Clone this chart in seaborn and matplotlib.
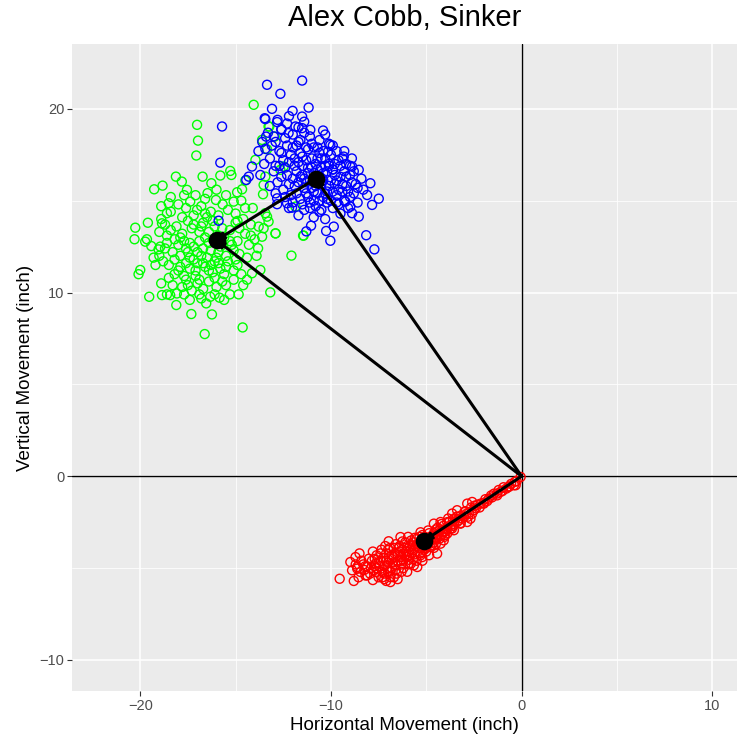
import matplotlib
matplotlib.use("Agg")
import matplotlib.pyplot as plt
import seaborn as sns
import pandas as pd

# ---------------- data ----------------
green_x = [-20.26, -20.3, -19.65, -19.74, -19.42, -19.04, -18.95, -20.0, -20.09, -19.53, -19.27, -18.83,
           -18.13, -17.82, -17.55, -16.73, -16.27, -16.47, -15.8, -15.28, -15.22, -14.92, -14.66, -16.03,
           -15.68, -15.1, -17.32, -16.24, -16.62, -14.63, -18.11, -18.86, -18.43, -18.08, -16.8, -16.33,
           -16.54, -15.84, -14.84, -13.18, -13.7, -14.14, -13.82, -13.61, -13.53, -13.27, -13.44, -14.05,
           -17.02, -16.97, -17.06, -13.27, -13.61, -12.07, -12.9, -13.96, -13.35, -11.46,
           -18.6, -18.3, -18.1, -17.9, -17.7, -17.5, -17.4, -17.2, -17.1, -16.9, -16.8, -16.6, -16.5, -16.4,
           -16.2, -16.1, -15.9, -15.7, -15.6, -15.4, -15.2, -15.0, -14.8, -14.7, -14.5, -18.8, -18.5, -18.2,
           -17.8, -17.6, -17.3, -17.0, -16.7, -16.4, -16.0, -15.5, -15.1, -14.9, -18.9, -18.4, -18.0, -17.6,
           -17.2, -16.8, -16.3, -15.9, -15.4, -15.0, -14.6, -14.2, -14.3, -14.0, -18.7, -18.4, -18.0, -17.8,
           -17.5, -17.3, -17.0, -16.9, -16.6, -16.5, -16.3, -16.1, -15.8, -15.7, -15.5, -15.3, -15.1, -14.9,
           -17.9, -17.6, -17.1, -16.7, -16.2, -15.9, -16.0, -17.4, -16.8, -16.4, -18.2, -17.7, -15.6, -14.8,
           -14.4, -18.9, -19.2, -19.0, -18.6, -17.4, -15.3, -14.4, -13.9, -14.1, -14.7, -16.0, -17.1, -18.4,
           -18.9, -19.6, -19.3, -17.7, -13.23, -12.95, -13.44, -13.53, -12.48, -12.65, -11.86, -11.43,
           -12.91, -13.35, -13.79, -14.49, -13.56, -18.86, -18.51, -18.6, -17.38, -17.02,
           -18.5, -18.2, -18.0, -17.8, -17.6, -17.4, -17.2, -17.0, -16.9, -16.7, -16.6, -16.4, -16.2, -16.1,
           -15.9, -15.7, -15.5, -15.3, -15.1, -14.9, -18.7, -19.0, -18.3, -17.5, -16.9, -16.1, -15.6, -14.6,
           -14.2, -14.5, -15.5, -16.6, -17.7, -18.6, -17.2, -16.3, -15.8, -15.0, -17.9, -16.7]
green_y = [13.53, 12.9, 12.9, 12.77, 12.53, 12.35, 12.5, 11.23, 11.0, 9.77, 15.62, 15.82,
           16.31, 16.04, 15.59, 16.31, 15.95, 15.41, 16.37, 16.62, 16.4, 15.46, 15.62, 15.04,
           14.8, 14.95, 8.83, 8.81, 7.74, 8.1, 9.32, 9.86, 9.86, 9.95, 9.68, 9.77,
           9.41, 9.72, 9.9, 10.01, 11.23, 11.05, 12.41, 13.04, 13.5, 13.86, 14.32, 20.22,
           19.13, 18.27, 17.46, 19.04, 18.31, 12.01, 13.22, 17.22, 17.8, 13.1,
           13.1, 12.2, 13.6, 11.4, 12.8, 13.9, 11.9, 12.5, 10.9, 13.3, 12.0, 11.4, 14.1, 12.7,
           11.1, 13.6, 12.2, 10.6, 13.0, 11.7, 12.6, 13.8, 12.1, 11.0, 13.2, 11.7, 10.8, 11.0,
           10.3, 10.7, 10.1, 10.5, 10.2, 10.6, 10.3, 10.4, 11.2, 11.5, 14.0, 14.4, 14.8, 14.6,
           14.2, 14.7, 14.4, 14.2, 14.5, 14.3, 14.0, 13.7, 12.6, 12.9, 12.4, 13.4, 12.6, 13.2,
           12.2, 13.5, 11.6, 12.8, 13.0, 11.9, 12.3, 11.7, 11.3, 12.7, 12.0, 13.4, 12.3, 12.8,
           12.0, 11.6, 11.2, 11.6, 12.9, 13.1, 11.9, 12.7, 13.6, 13.3, 11.8, 10.9, 11.0, 13.5,
           11.9, 10.5, 11.5, 13.3, 9.9, 9.6, 9.9, 10.7, 12.0, 14.6, 15.0, 15.6, 15.3, 15.2,
           14.7, 13.8, 11.9, 9.9, 19.04, 18.49, 16.31, 15.86, 16.86, 16.68, 14.68, 13.1,
           13.22, 14.13, 13.59, 16.1, 15.35, 13.77, 14.86, 14.32, 14.95, 14.5,
           11.5, 12.9, 11.2, 14.1, 12.4, 11.3, 13.7, 12.2, 10.7, 12.4, 14.3, 11.2, 13.9, 10.8,
           11.6, 13.5, 11.4, 12.8, 10.7, 13.9, 13.7, 12.0, 10.4, 10.4, 9.9, 9.9, 9.6, 10.4,
           13.1, 14.6, 15.3, 15.1, 15.3, 12.7, 11.8, 11.5, 12.5, 11.8, 13.0, 13.8]

blue_x = [-13.35, -11.51, -12.65, -13.09, -12.01, -11.17, -11.51, -15.71, -15.8, -15.89, -10.41, -8.54,
          -7.93, -7.49, -8.15, -7.72, -10.03, -10.25, -9.85, -11.04, -11.29, -13.47, -13.4, -13.44,
          -14.14, -14.31, -14.44, -12.82, -12.3, -12.04, -12.82, -13.44, -12.82, -11.86, -11.51, -11.08,
          -12.6, -12.22, -8.1, -7.84, -8.54, -8.89, -9.24, -8.98, -9.33, -8.89, -10.03, -10.15,
          -12.9, -12.6, -12.4, -12.2, -12.0, -11.8, -11.7, -11.5, -11.3, -11.2, -11.0, -10.9, -10.7, -10.6,
          -10.4, -10.3, -10.1, -10.0, -9.8, -9.7, -9.5, -9.4, -9.2, -9.1, -8.9, -13.2, -13.0, -12.8, -12.7,
          -12.5, -12.3, -12.1, -11.9, -11.6, -11.4, -11.1, -10.8, -10.5, -10.2, -9.9, -9.6, -9.3, -12.6,
          -12.3, -12.0, -11.7, -11.4, -11.9, -11.6, -11.2, -10.9, -10.8, -10.6, -10.5, -10.2, -10.0, -9.8,
          -9.6, -9.3, -9.0, -8.8, -8.7, -11.5, -11.3, -11.0, -10.7, -10.4, -10.3, -10.9, -11.1, -10.6,
          -9.9, -9.5, -9.4, -9.7, -10.1, -10.6, -11.1, -12.5, -12.9, -13.2, -13.5, -13.7, -13.3, -13.8,
          -12.2, -11.7, -11.4, -10.9, -10.3, -9.5, -8.6, -8.4, -8.3, -12.0, -11.8, -11.3, -10.7, -10.2,
          -9.8, -9.2, -10.4, -11.6, -12.2, -10.0, -9.0, -11.2, -10.5, -9.9, -10.8, -11.5, -10.1,
          -11.9, -11.7, -11.4, -11.2, -11.0, -10.9, -10.7, -10.5, -10.3, -10.1, -9.9, -9.7, -9.6, -9.4,
          -9.2, -9.0, -8.9, -11.8, -12.1, -12.4, -12.6, -12.9, -13.1, -12.7, -12.3, -11.6, -11.3, -11.0,
          -10.8, -10.4, -10.2, -10.6, -11.1, -11.5, -9.7, -9.1, -8.8, -8.6, -9.3, -9.9, -10.3, -11.4,
          -12.2, -12.8, -13.0, -13.6, -12.4, -12.0, -10.5, -11.7]
blue_y = [21.31, 21.54, 20.82, 20.0, 19.89, 20.07, 19.58, 19.04, 17.07, 13.91, 18.82, 16.68,
          15.95, 15.11, 13.12, 12.35, 12.82, 13.35, 13.59, 13.64, 13.33, 19.49, 18.49, 17.82,
          16.86, 16.31, 16.13, 15.13, 14.86, 14.62, 14.81, 19.44, 19.28, 19.04, 18.95, 18.86,
          18.86, 18.68, 15.31, 14.77, 14.13, 14.32, 14.95, 14.68, 17.4, 16.86, 18.04, 17.67,
          18.2, 17.6, 18.4, 17.1, 17.9, 16.6, 18.2, 17.4, 16.0, 17.8, 16.8, 15.5, 17.3, 16.3,
          15.2, 16.9, 15.8, 17.5, 16.4, 15.3, 16.9, 15.9, 16.3, 15.5, 16.0, 17.3, 16.6, 16.0, 16.9,
          15.6, 16.4, 15.3, 15.8, 15.1, 15.7, 14.9, 14.7, 14.5, 14.9, 14.6, 14.8, 15.0, 18.9,
          19.2, 18.6, 19.0, 18.7, 17.3, 16.3, 16.5, 17.9, 16.1, 17.6, 15.9, 16.6, 16.1, 17.0,
          15.6, 16.6, 16.9, 15.4, 15.9, 16.9, 17.2, 15.7, 15.4, 16.5, 17.3, 16.5, 16.1, 15.0,
          15.5, 16.3, 17.3, 17.7, 18.1, 18.3, 18.5, 17.2, 15.4, 15.8, 17.0, 16.4, 18.7, 17.7,
          14.6, 14.2, 14.5, 14.1, 14.0, 14.3, 14.9, 16.2, 15.6, 16.2, 15.4, 15.4, 16.7, 15.5,
          15.9, 15.8, 17.7, 17.6, 15.9, 15.0, 15.2, 16.8, 16.2, 16.7, 15.8, 16.4, 16.9,
          16.9, 16.0, 16.2, 15.2, 17.3, 15.0, 17.9, 16.8, 15.4, 17.0, 16.7, 16.1, 17.2, 15.5,
          17.0, 16.4, 17.3, 18.0, 17.5, 16.8, 16.3, 16.9, 18.0, 17.7, 18.0, 18.3, 17.9, 18.1,
          17.0, 16.1, 15.1, 14.4, 14.6, 14.8, 14.9, 14.6, 16.6, 15.7, 17.7, 18.0, 18.6, 19.3,
          19.6, 19.4, 18.5, 18.2, 15.2, 14.9, 17.3, 17.1]

red_x = [-0.05, -0.26, -0.4, -0.55, -0.8, -0.95, -1.1, -1.28, -1.45, -1.55, -1.72, -1.9, -2.0, -2.15,
         -2.3, -2.4, -2.5, -2.65, -2.77, -2.9, -2.95, -3.1, -3.2, -3.38, -3.4, -3.55, -3.6, -3.73, -3.8,
         -3.9, -4.0, -4.08, -4.1, -4.2, -4.25, -4.3, -4.43, -4.45, -4.5, -4.6, -4.7, -4.8, -4.85, -4.95,
         -5.0, -5.1, -5.21, -5.25, -5.3, -5.4, -5.47, -5.5, -5.6, -5.65, -5.7, -5.8, -5.9, -5.95, -6.0,
         -6.1, -6.2, -6.25, -6.35, -6.4, -6.5, -6.55, -6.6, -6.7, -6.8, -6.88, -6.88, -6.9, -6.97, -7.0,
         -7.1, -7.2, -7.31, -7.35, -7.4, -7.5, -7.6, -7.66, -7.75, -7.8, -7.9, -8.01, -8.1, -8.19, -8.3,
         -8.45, -8.5, -8.62, -8.62, -8.71, -8.8, -8.98, -8.89, -9.54,
         -3.0, -3.3, -3.5, -3.7, -3.95, -4.15, -4.35, -4.55, -4.75, -4.9, -5.05, -5.15, -5.35, -5.45,
         -5.55, -5.75, -5.85, -6.05, -6.15, -6.3, -6.45, -6.65, -6.75, -6.95, -7.05, -7.25, -7.45, -7.15,
         -6.3, -5.95, -6.6, -7.7, -7.2, -7.0, -6.5, -4.6, -4.4, -4.2, -3.85, -5.2, -4.9, -3.65, -4.05,
         -4.7, -5.6, -2.2, -2.6, -1.8, -1.2, -0.65, -1.98, -1.28, -0.67, -0.31, -2.68, -2.85, -3.2, -3.55,
         -3.9, -3.64, -3.38, -2.85, -2.59, -4.6, -4.25, -5.3, -5.9, -6.2, -5.0, -4.5, -6.8, -7.6, -8.2,
         -3.6, -3.9, -4.1, -4.3, -4.5, -4.65, -4.8, -5.0, -5.1, -5.3, -5.35, -5.5, -5.65, -5.7, -5.8,
         -5.9, -6.0, -6.1, -6.2, -6.35, -6.4, -6.5, -6.6, -6.7, -6.8, -6.9, -7.0, -7.1, -7.2, -7.3,
         -7.4, -7.5, -7.6, -7.7, -7.85, -7.95, -8.1, -8.25, -8.4, -8.55, -6.3, -6.7, -7.1, -5.5, -5.8,
         -4.6, -4.0, -3.2, -3.5, -2.8, -3.0, -2.45, -1.6, -1.0, -0.35, -4.85, -5.2, -6.0, -7.8, -8.7]
red_y = [-0.04, -0.27, -0.49, -0.42, -0.67, -0.6, -0.85, -0.94, -0.95, -1.15, -1.22, -1.25, -1.45, -1.49,
         -1.55, -1.75, -1.85, -1.7, -2.0, -2.05, -1.9, -2.3, -2.15, -2.49, -2.2, -2.6, -2.35, -2.85, -2.5,
         -2.75, -3.0, -3.49, -2.7, -3.2, -3.67, -2.9, -4.21, -3.4, -3.05, -3.6, -3.25, -3.85, -3.1, -3.5,
         -4.1, -3.3, -4.4, -3.7, -3.05, -3.9, -4.94, -3.4, -4.25, -4.85, -3.6, -4.0, -4.55, -3.3, -3.8,
         -4.3, -5.0, -3.55, -3.31, -4.1, -4.6, -5.3, -3.7, -4.4, -5.0, -5.49, -5.76, -3.9, -3.54, -4.7,
         -4.2, -5.3, -5.21, -4.0, -4.6, -5.5, -4.3, -4.76, -5.12, -4.1, -5.0, -4.49, -5.4, -5.4, -4.8,
         -5.21, -4.2, -5.03, -4.94, -4.4, -5.7, -4.67, -5.12, -5.58,
         -2.2, -2.4, -2.45, -2.65, -2.9, -3.05, -3.15, -3.35, -3.5, -3.7, -3.8, -3.6, -3.55, -4.1,
         -3.8, -4.2, -3.8, -4.1, -3.9, -4.4, -3.9, -4.2, -4.7, -4.4, -5.0, -4.45, -4.9, -3.8,
         -4.8, -4.8, -5.1, -4.5, -5.6, -5.2, -5.6, -3.1, -2.8, -2.6, -2.3, -3.2, -2.95, -2.85, -3.3,
         -3.75, -3.35, -1.7, -2.05, -1.35, -0.75, -0.55, -1.49, -1.04, -0.58, -0.49, -2.31, -2.49, -2.58, -2.94,
         -3.12, -2.03, -1.85, -1.49, -1.4, -2.58, -2.49, -4.3, -4.3, -4.6, -3.9, -3.7, -4.5, -5.0, -4.9,
         -2.7, -2.5, -3.0, -3.4, -2.9, -3.45, -3.3, -3.6, -4.0, -4.2, -3.3, -3.7, -4.0, -4.5, -3.5,
         -4.1, -4.4, -3.6, -4.2, -4.6, -3.8, -4.3, -4.8, -3.9, -4.3, -5.2, -4.0, -4.6, -4.9, -5.5,
         -4.2, -4.7, -5.2, -4.9, -4.6, -5.3, -4.9, -5.1, -4.6, -5.5, -5.2, -5.5, -5.7, -4.6, -4.75,
         -3.9, -3.2, -2.55, -2.3, -2.2, -1.95, -1.6, -1.05, -0.8, -0.3, -4.3, -4.6, -5.2, -5.65, -4.8]

centroid_names = ["green", "blue", "red"]
centroid_x = [-16.0, -10.8, -5.1]
centroid_y = [12.85, 16.2, -3.5]

title = "Alex Cobb, Sinker"
xlabel = "Horizontal Movement (inch)"
ylabel = "Vertical Movement (inch)"
x_major = [-20, -10, 0, 10]
x_minor = [-15, -5, 5]
y_major = [-10, 0, 10, 20]
y_minor = [-5, 5, 15]

# ---------------- build frame ----------------
df = pd.concat([
    pd.DataFrame({"x": green_x, "y": green_y, "grp": "green"}),
    pd.DataFrame({"x": blue_x, "y": blue_y, "grp": "blue"}),
    pd.DataFrame({"x": red_x, "y": red_y, "grp": "red"}),
], ignore_index=True)
cent = pd.DataFrame({"x": centroid_x, "y": centroid_y, "grp": centroid_names})
palette = {"green": "#00FF00", "blue": "#0000FF", "red": "#FF0000"}

sns.set_theme(style="white")
plt.rcParams["font.family"] = ["Liberation Sans", "DejaVu Sans"]

fig = plt.figure(figsize=(7.37, 7.37), dpi=100)
ax = fig.add_axes([72 / 737, 46 / 737, 665 / 737, 647 / 737])
ax.set_facecolor("#EBEBEB")
for s in ax.spines.values():
    s.set_visible(False)

ax.set_xlim(-23.58, 11.30)
ax.set_ylim(-11.69, 23.53)
ax.set_xticks(x_major)
ax.set_xticks(x_minor, minor=True)
ax.set_yticks(y_major)
ax.set_yticks(y_minor, minor=True)
ax.grid(which="major", color="white", linewidth=1.1)
ax.grid(which="minor", color="white", linewidth=0.55)
ax.set_axisbelow(True)
ax.tick_params(which="major", length=3.5, width=0.8, color="#333333",
               labelcolor="#4D4D4D", labelsize=10.5, pad=2, bottom=True, left=True)
ax.tick_params(which="minor", length=0, bottom=False, left=False)

ax.axhline(0, color="black", linewidth=1.0, zorder=1.5)
ax.axvline(0, color="black", linewidth=1.0, zorder=1.5)

sns.scatterplot(data=df, x="x", y="y", hue="grp", palette=palette, ax=ax,
                marker="o", s=42, facecolors="none", linewidth=1.0, legend=False, zorder=2)
coll = ax.collections[-1]
coll.set_edgecolors([palette[g] for g in df["grp"]])
coll.set_facecolors("none")

cx = dict(zip(centroid_names, centroid_x))
cy = dict(zip(centroid_names, centroid_y))
segments = [((0, 0), "red"), ((0, 0), "green"), ((0, 0), "blue"),
            ((cx["blue"], cy["blue"]), "green")]
for start, end in segments:
    ax.annotate("", xy=(cx[end], cy[end]), xytext=start,
                arrowprops=dict(arrowstyle="-|>", color="black", lw=2.2,
                                mutation_scale=10, shrinkA=0, shrinkB=0),
                zorder=3)

sns.scatterplot(data=cent, x="x", y="y", color="black", s=160, ax=ax,
                edgecolor="black", linewidth=0, legend=False, zorder=4)

ax.set_xlabel(xlabel, fontsize=13.5, color="black", labelpad=3)
ax.set_ylabel(ylabel, fontsize=13.5, color="black", labelpad=4)
fig.text((72 + 737) / 2 / 737, 1 - 18 / 737, title, ha="center", va="center",
         fontsize=21, color="black")

fig.savefig("out.png", dpi=100)
